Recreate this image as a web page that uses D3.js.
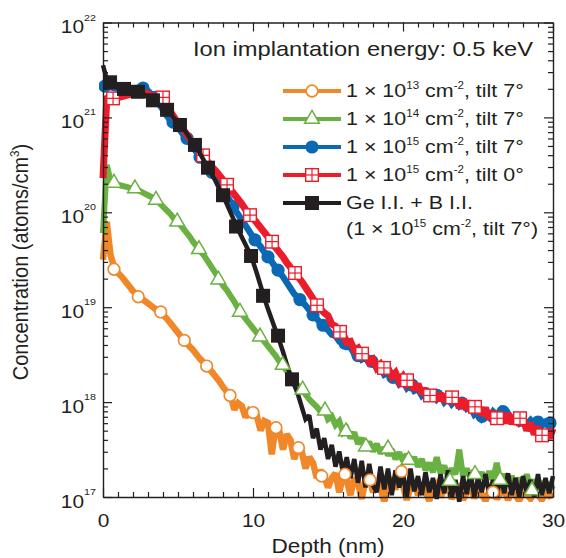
<!DOCTYPE html>
<html><head><meta charset="utf-8">
<script src="https://cdn.jsdelivr.net/npm/d3@7"></script>
<style>
body{margin:0;background:#fff}
svg{display:block}
text{font-family:"Liberation Sans",Arial,Helvetica,sans-serif;fill:#231f20}
</style>
</head><body>
<svg id="chart" width="566" height="558"></svg>
<script>
// ---------- DATA (boron SIMS profiles, log10 of concentration in atoms/cm^3) ----------
// depth grid: 0 .. 30 nm, every 0.25 nm (121 points)
const depth = d3.range(0, 30 + 1e-9, 0.25);

// 1e13 cm^-2, tilt 7°
const log13t7 = [
  19.50,19.90,19.55,19.42,19.36,19.32,19.27,19.22,
  19.17,19.13,19.10,19.07,19.04,19.01,18.98,18.95,
  18.92,18.88,18.83,18.78,18.73,18.68,18.64,18.59,
  18.55,18.50,18.45,18.41,18.36,18.32,18.27,18.22,
  18.16,18.11,18.07,17.92,17.99,17.96,17.84,17.91,
  17.88,17.86,17.70,17.80,17.78,17.45,17.74,17.70,
  17.50,17.66,17.60,17.40,17.53,17.48,17.30,17.42,
  17.36,17.20,17.28,17.22,17.10,17.20,17.25,17.05,
  17.22,17.18,17.02,17.20,17.15,16.98,17.18,17.22,
  17.05,17.16,17.10,16.95,17.14,17.20,17.08,17.24,
  17.12,16.97,17.10,17.15,17.02,17.12,17.06,16.96,
  17.10,17.14,17.00,17.08,17.12,16.98,17.06,17.10,
  16.97,17.05,17.09,16.99,17.07,17.03,16.96,17.06,
  17.08,16.98,17.04,17.07,16.97,17.05,17.02,16.96,
  17.06,17.03,16.98,17.05,17.02,16.97,17.04,17.01,
  17.03];

// 1e14 cm^-2, tilt 7°
const log14t7 = [
  19.78,20.50,20.33,20.30,20.29,20.28,20.27,20.26,
  20.25,20.24,20.22,20.20,20.18,20.16,20.13,20.10,
  20.06,20.02,19.98,19.93,19.89,19.85,19.80,19.75,
  19.69,19.64,19.59,19.54,19.48,19.42,19.36,19.29,
  19.23,19.18,19.12,19.06,18.99,18.93,18.88,18.83,
  18.78,18.73,18.69,18.64,18.59,18.54,18.49,18.43,
  18.38,18.33,18.28,18.22,18.17,18.13,18.08,18.03,
  17.99,17.95,17.90,17.93,17.82,17.85,17.76,17.80,
  17.68,17.72,17.62,17.68,17.56,17.62,17.52,17.58,
  17.48,17.56,17.46,17.52,17.44,17.50,17.40,17.47,
  17.38,17.45,17.35,17.42,17.32,17.40,17.28,17.36,
  17.26,17.42,17.25,17.33,17.22,17.30,17.24,17.50,
  17.22,17.30,17.20,17.28,17.18,17.26,17.16,17.27,
  17.18,17.36,17.15,17.24,17.14,17.22,17.12,17.20,
  17.10,17.24,17.10,17.18,17.08,17.16,17.07,17.15,
  17.08];

// 1e15 cm^-2, tilt 7°
const log15t7 = [
  21.34,21.33,21.32,21.31,21.30,21.30,21.30,21.30,
  21.30,21.31,21.31,21.30,21.28,21.24,21.20,21.14,
  21.08,21.02,20.97,20.93,20.89,20.84,20.79,20.75,
  20.69,20.63,20.58,20.52,20.47,20.42,20.37,20.31,
  20.25,20.18,20.11,20.04,19.98,19.92,19.86,19.80,
  19.74,19.69,19.64,19.58,19.53,19.48,19.42,19.37,
  19.32,19.26,19.20,19.14,19.10,19.06,19.02,18.97,
  18.92,18.88,18.83,18.79,18.76,18.71,18.70,18.64,
  18.64,18.58,18.58,18.51,18.52,18.45,18.47,18.41,
  18.43,18.36,18.37,18.29,18.31,18.25,18.26,18.19,
  18.22,18.15,18.19,18.12,18.14,18.07,18.11,18.05,
  18.09,18.03,18.07,18.00,18.04,17.98,18.02,17.96,
  18.00,17.93,17.95,17.87,17.90,17.83,17.88,17.84,
  17.90,17.86,17.91,17.85,17.88,17.81,17.84,17.78,
  17.82,17.77,17.81,17.76,17.80,17.75,17.79,17.76,
  17.79];

// 1e15 cm^-2, tilt 0°
const log15t0 = [
  20.36,21.20,21.22,21.21,21.21,21.22,21.23,21.24,
  21.25,21.26,21.26,21.26,21.25,21.23,21.22,21.21,
  21.19,21.13,21.06,21.00,20.94,20.89,20.84,20.78,
  20.73,20.68,20.63,20.58,20.53,20.48,20.44,20.39,
  20.34,20.29,20.24,20.19,20.14,20.09,20.03,19.98,
  19.94,19.89,19.84,19.79,19.74,19.69,19.63,19.58,
  19.53,19.47,19.42,19.37,19.32,19.27,19.21,19.15,
  19.09,19.03,18.98,18.94,18.91,18.82,18.80,18.73,
  18.72,18.63,18.64,18.55,18.57,18.49,18.50,18.42,
  18.45,18.36,18.40,18.33,18.36,18.27,18.31,18.22,
  18.27,18.19,18.24,18.13,18.19,18.09,18.14,18.04,
  18.11,18.02,18.09,18.01,18.08,17.99,18.05,17.94,
  18.03,17.92,18.01,17.90,17.97,17.86,17.94,17.82,
  17.90,17.79,17.88,17.78,17.88,17.77,17.86,17.76,
  17.83,17.70,17.78,17.66,17.74,17.62,17.70,17.62,
  17.72];

// Ge I.I. + B I.I. (1e15 cm^-2, tilt 7°)
const logGeB = [
  21.55,21.40,21.36,21.33,21.31,21.30,21.29,21.28,
  21.28,21.27,21.26,21.24,21.21,21.18,21.16,21.13,
  21.10,21.08,21.04,20.99,20.94,20.90,20.85,20.79,
  20.73,20.68,20.61,20.54,20.47,20.40,20.33,20.25,
  20.18,20.09,20.00,19.91,19.82,19.74,19.66,19.58,
  19.48,19.36,19.23,19.10,18.98,18.87,18.76,18.65,
  18.53,18.40,18.28,18.18,18.08,17.95,17.82,17.86,
  17.62,17.72,17.50,17.62,17.40,17.55,17.32,17.48,
  17.25,17.42,17.20,17.40,17.15,17.38,17.10,17.35,
  17.12,17.05,17.32,17.08,17.30,17.02,17.28,17.10,
  17.25,17.00,17.30,17.06,17.22,17.02,17.26,17.05,
  17.20,16.98,17.24,17.04,17.28,17.00,17.18,16.95,
  17.22,17.03,17.26,17.00,17.20,17.05,17.24,17.02,
  17.18,17.00,17.22,17.04,17.25,17.02,17.20,17.00,
  17.22,17.05,17.18,17.00,17.24,17.02,17.20,17.04,
  17.22];

// plotted marker points [depth nm, log10 concentration]
const mark13t7 = [[0.73,19.40],[2.35,19.11],[3.85,18.95],[5.42,18.65],[6.91,18.38],[8.47,18.07],
  [10.0,17.89],[11.53,17.73],[13.03,17.52],[14.58,17.22],[16.13,17.24],[17.8,17.18],[19.9,17.27],[26.0,17.05]];
const mark14t7 = [[0.73,20.31],[2.13,20.25],[3.53,20.13],[4.95,19.90],[6.4,19.61],[7.69,19.29],
  [9.13,18.95],[10.47,18.69],[11.98,18.39],[13.31,18.13],[14.8,17.91],[16.2,17.69],[17.53,17.53],
  [19.0,17.51],[20.37,17.39],[23.13,17.17],[24.8,17.24],[26.47,17.18],[28.6,17.07]];
const mark15t7 = [[0.13,21.33],[1.33,21.30],[2.67,21.31],[3.47,21.21],[4.67,20.95],[5.6,20.78],
  [6.47,20.58],[7.27,20.42],[8.67,20.06],[10.13,19.71],[11.0,19.53],[11.67,19.39],[13.13,19.08],
  [14.0,18.92],[14.67,18.81],[16.13,18.62],[17.0,18.49],[17.93,18.43],[19.33,18.26],[20.6,18.18],
  [22.27,18.07],[23.93,17.99],[25.27,17.85],[26.67,17.90],[27.8,17.81],[29.0,17.79],[29.8,17.78]];
const mark15t0 = [[0.67,21.20],[4.0,21.21],[6.67,20.60],[8.27,20.29],[9.8,19.97],[11.27,19.69],
  [12.8,19.36],[14.27,19.02],[15.8,18.74],[17.27,18.51],[18.73,18.36],[20.27,18.23],[21.8,18.07],
  [23.27,18.05],[24.8,17.95],[26.27,17.83],[27.8,17.83],[29.27,17.65]];
const markGeB = [[0.47,21.37],[1.4,21.30],[2.33,21.27],[3.33,21.18],[4.27,21.08],[5.13,20.92],
  [6.13,20.71],[7.0,20.47],[8.0,20.18],[8.87,19.85],[9.87,19.54],[10.67,19.12],[11.67,18.70],[12.6,18.24]];

// axis ticks / labels
const xMajorTicks = [0, 10, 20, 30];
const xMinorTicks = [1,2,3,4,5,6,7,8,9,11,12,13,14,15,16,17,18,19,21,22,23,24,25,26,27,28,29];
const yDecadeExponents = [17, 18, 19, 20, 21, 22];
const minorMultipliers = [2,3,4,5,6,7,8,9];

// legend text
const titleText = "Ion implantation energy: 0.5 keV";
const legendLabels = [
  [["1 × 10",0],["13",1],[" cm",0],["-2",1],[", tilt 7°",0]],
  [["1 × 10",0],["14",1],[" cm",0],["-2",1],[", tilt 7°",0]],
  [["1 × 10",0],["15",1],[" cm",0],["-2",1],[", tilt 7°",0]],
  [["1 × 10",0],["15",1],[" cm",0],["-2",1],[", tilt 0°",0]],
  [["Ge I.I. + B I.I.",0]]
];
const legendExtraLine = [["(1 × 10",0],["15",1],[" cm",0],["-2",1],[", tilt 7°)",0]];

// ---------- CHART ----------
const W = 566, H = 558;
const L = 103, R = 553, T = 22.5, B = 497;
const SX = 1.13;   // horizontal glyph stretch of the original figure
const SXL = 1.16;  // legend text stretch
const ink = "#231f20";

const svg = d3.select("#chart");
const x = d3.scaleLinear().domain([0, 30]).range([L, R]);
const y = d3.scaleLog().domain([1e17, 1e22]).range([B, T]);

const series = [
  {vals: log13t7, marks: mark13t7, color: "#f0882a", lw: 6.5, marker: "circleOpen"},
  {vals: log14t7, marks: mark14t7, color: "#6ab043", lw: 6, marker: "triOpen"},
  {vals: log15t7, marks: mark15t7, color: "#0a69b4", lw: 6.5, marker: "circle"},
  {vals: log15t0, marks: mark15t0, color: "#ec1c2a", lw: 7, marker: "gridSquare"},
  {vals: logGeB, marks: markGeB, color: ink, lw: 4.5, marker: "square"}
];

function drawMarker(g, type, color) {
  if (type === "circleOpen") {
    g.append("circle").attr("r", 5.8).attr("fill", "#fff").attr("stroke", color).attr("stroke-width", 1.7);
  } else if (type === "triOpen") {
    g.append("path").attr("d", d3.symbol(d3.symbolTriangle, 95)()).attr("fill", "#fff")
      .attr("stroke", color).attr("stroke-width", 1.5);
  } else if (type === "circle") {
    g.append("circle").attr("r", 6.6).attr("fill", color);
  } else if (type === "gridSquare") {
    const s = 6.3;
    g.append("rect").attr("x", -s).attr("y", -s).attr("width", 2*s).attr("height", 2*s)
      .attr("fill", "#fff").attr("stroke", color).attr("stroke-width", 1.4);
    g.append("line").attr("x1", -s).attr("x2", s).attr("stroke", color).attr("stroke-width", 1.2);
    g.append("line").attr("y1", -s).attr("y2", s).attr("stroke", color).attr("stroke-width", 1.2);
  } else if (type === "square") {
    g.append("rect").attr("x", -7).attr("y", -7).attr("width", 14).attr("height", 14).attr("fill", color);
  }
}

svg.append("defs").append("clipPath").attr("id", "plotclip")
  .append("rect").attr("x", L - 4).attr("y", T - 2).attr("width", R - L + 8).attr("height", B - T + 7);

const plot = svg.append("g").attr("clip-path", "url(#plotclip)");
const line = d3.line().x((d, i) => x(depth[i])).y(d => y(Math.pow(10, d)));

function drawLine(s) {
  plot.append("path").datum(s.vals).attr("d", line).attr("fill", "none")
    .attr("stroke", s.color).attr("stroke-width", s.lw).attr("stroke-linejoin", "miter").attr("stroke-miterlimit", 2);
}
function drawMarks(s) {
  plot.append("g").selectAll("g").data(s.marks).join("g")
    .attr("transform", d => `translate(${x(d[0])},${y(Math.pow(10, d[1]))})`)
    .each(function() { drawMarker(d3.select(this), s.marker, s.color); });
}
// drawing order as in the original figure
drawLine(series[0]);
drawLine(series[1]);
drawLine(series[2]); drawMarks(series[2]);
drawLine(series[3]); drawMarks(series[3]);
drawLine(series[4]); drawMarks(series[4]);
drawMarks(series[0]);
drawMarks(series[1]);

// ---------- AXES ----------
const yMajor = yDecadeExponents.map(e => Math.pow(10, e));
const yMinor = [];
yDecadeExponents.slice(0, -1).forEach(e => minorMultipliers.forEach(m => yMinor.push(m * Math.pow(10, e))));

function styleAxis(g) {
  g.selectAll("path.domain").attr("stroke", ink).attr("stroke-width", 1.4);
  g.selectAll(".tick line").attr("stroke", ink).attr("stroke-width", 1.2);
}
const axes = svg.append("g");
// bottom
axes.append("g").attr("transform", `translate(0,${B})`)
  .call(d3.axisBottom(x).tickValues(xMinorTicks).tickSizeInner(-5).tickSizeOuter(0).tickFormat(""))
  .call(g => g.select(".domain").remove()).call(styleAxis);
const bx = axes.append("g").attr("transform", `translate(0,${B})`)
  .call(d3.axisBottom(x).tickValues(xMajorTicks).tickSizeInner(-9).tickSizeOuter(0).tickPadding(17).tickFormat(d3.format("d")))
  .call(styleAxis);
bx.selectAll(".tick text").attr("font-size", 18.5).attr("fill", ink)
  .attr("font-family", '"Liberation Sans",Arial,sans-serif').attr("transform", `scale(${SX},1)`);
// top
axes.append("g").attr("transform", `translate(0,${T})`)
  .call(d3.axisTop(x).tickValues(xMinorTicks).tickSizeInner(-5).tickSizeOuter(0).tickFormat(""))
  .call(g => g.select(".domain").remove()).call(styleAxis);
axes.append("g").attr("transform", `translate(0,${T})`)
  .call(d3.axisTop(x).tickValues(xMajorTicks).tickSizeInner(-9).tickSizeOuter(0).tickFormat(""))
  .call(styleAxis);
// left
axes.append("g").attr("transform", `translate(${L},0)`)
  .call(d3.axisLeft(y).tickValues(yMinor).tickSizeInner(-5).tickSizeOuter(0).tickFormat(""))
  .call(g => g.select(".domain").remove()).call(styleAxis);
axes.append("g").attr("transform", `translate(${L},0)`)
  .call(d3.axisLeft(y).tickValues(yMajor).tickSizeInner(-9).tickSizeOuter(0).tickFormat(""))
  .call(styleAxis);
// right
axes.append("g").attr("transform", `translate(${R},0)`)
  .call(d3.axisRight(y).tickValues(yMinor).tickSizeInner(-5).tickSizeOuter(0).tickFormat(""))
  .call(g => g.select(".domain").remove()).call(styleAxis);
axes.append("g").attr("transform", `translate(${R},0)`)
  .call(d3.axisRight(y).tickValues(yMajor).tickSizeInner(-9).tickSizeOuter(0).tickFormat(""))
  .call(styleAxis);

// y tick labels 10^n
yDecadeExponents.forEach(e => {
  const t = svg.append("text")
    .attr("transform", `translate(96,${y(Math.pow(10, e)) + 10.5}) scale(${SX},1)`)
    .attr("text-anchor", "end").attr("font-size", 18.5);
  t.append("tspan").text("10");
  t.append("tspan").attr("dy", -12.5).attr("font-size", 9.5).text(String(e));
});

// axis titles
svg.append("text").attr("transform", `translate(${(L + R) / 2},553) scale(${SX},1)`)
  .attr("text-anchor", "middle").attr("font-size", 20).text("Depth (nm)");
const yl = svg.append("text").attr("transform", `translate(28,262) scale(${SX},1) rotate(-90)`)
  .attr("text-anchor", "middle").attr("font-size", 20);
yl.append("tspan").text("Concentration (atoms/cm");
yl.append("tspan").attr("dy", -8).attr("font-size", 11.5).text("3");
yl.append("tspan").attr("dy", 8).text(")");

// ---------- LEGEND ----------
svg.append("text").attr("transform", `translate(533,56) scale(${SX},1)`)
  .attr("text-anchor", "end").attr("font-size", 21).text(titleText);

function richText(parts, tx, ty) {
  const t = svg.append("text").attr("transform", `translate(${tx},${ty}) scale(${SXL},1)`).attr("font-size", 18.5);
  let raised = false;
  parts.forEach(([s, sup]) => {
    const ts = t.append("tspan").text(s);
    if (sup && !raised) { ts.attr("dy", -8.5).attr("font-size", 10); raised = true; }
    else if (sup) { ts.attr("font-size", 10); }
    else if (raised) { ts.attr("dy", 8.5); raised = false; }
  });
}
const legRow0 = 91, legGap = 28;
series.forEach((s, i) => {
  const ly = legRow0 + i * legGap;
  svg.append("line").attr("x1", 283).attr("x2", 341).attr("y1", ly).attr("y2", ly)
    .attr("stroke", s.color).attr("stroke-width", 4);
  drawMarker(svg.append("g").attr("transform", `translate(312,${ly})`), s.marker, s.color);
  richText(legendLabels[i], 346, ly + 6);
});
richText(legendExtraLine, 346, legRow0 + 4 * legGap + 32);
</script>
</body></html>
